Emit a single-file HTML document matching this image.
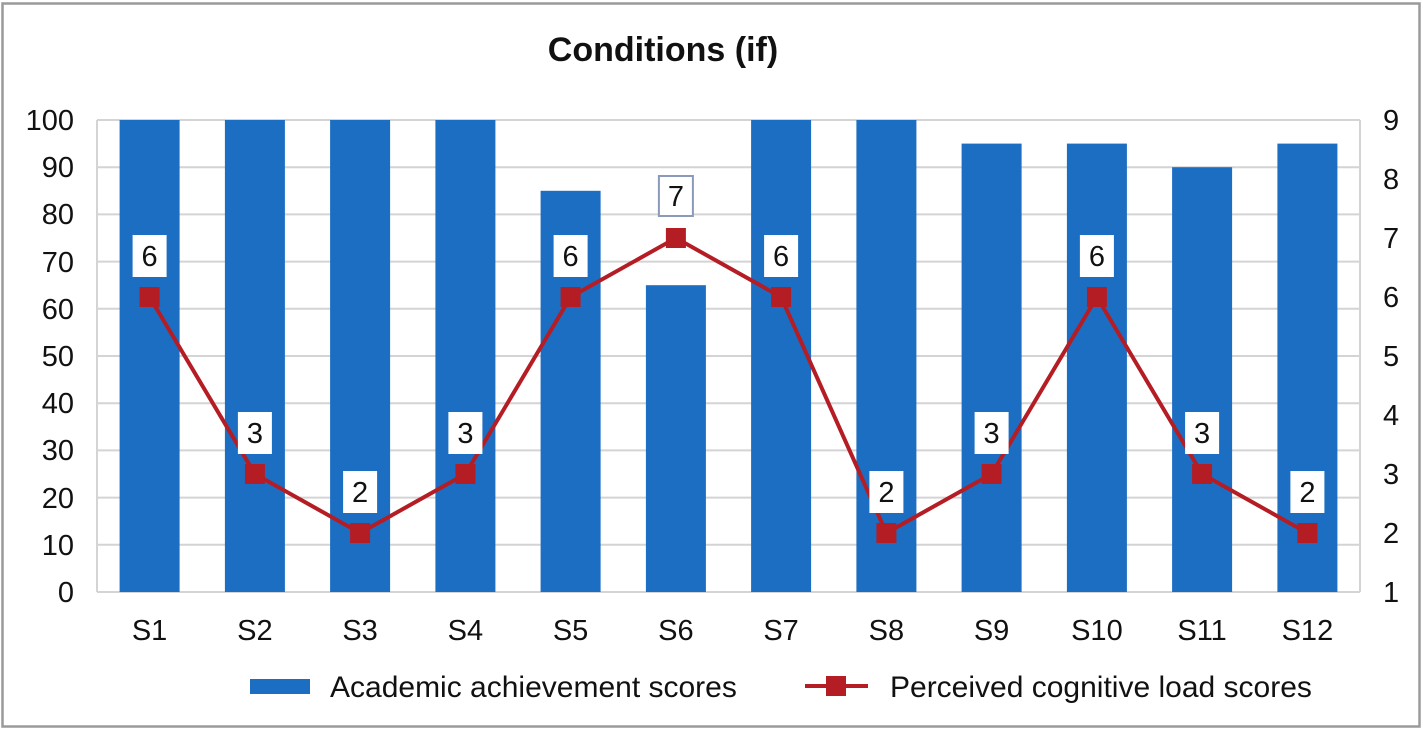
<!DOCTYPE html>
<html><head><meta charset="utf-8"><style>
html,body{margin:0;padding:0;background:#fff}
svg{display:block}
text{font-family:"Liberation Sans",sans-serif;fill:#111}
</style></head><body>
<svg width="1423" height="731" viewBox="0 0 1423 731" xmlns="http://www.w3.org/2000/svg">
<rect x="2.5" y="3.5" width="1417" height="723" fill="#fff" stroke="#9a9a9a" stroke-width="2.5"/>
<text x="663" y="61" font-size="34" font-weight="bold" text-anchor="middle">Conditions (if)</text>
<g stroke="#d4d4d4" stroke-width="2">
<line x1="97" y1="120" x2="1360" y2="120"/>
<line x1="97" y1="167.2" x2="1360" y2="167.2"/>
<line x1="97" y1="214.4" x2="1360" y2="214.4"/>
<line x1="97" y1="261.6" x2="1360" y2="261.6"/>
<line x1="97" y1="308.8" x2="1360" y2="308.8"/>
<line x1="97" y1="356" x2="1360" y2="356"/>
<line x1="97" y1="403.2" x2="1360" y2="403.2"/>
<line x1="97" y1="450.4" x2="1360" y2="450.4"/>
<line x1="97" y1="497.6" x2="1360" y2="497.6"/>
<line x1="97" y1="544.8" x2="1360" y2="544.8"/>
<line x1="97" y1="592" x2="1360" y2="592"/>
<line x1="97" y1="120" x2="97" y2="592"/>
<line x1="1360" y1="120" x2="1360" y2="592"/>
</g>
<g fill="#1b6ec2">
<rect x="119.6" y="120" width="60" height="472"/>
<rect x="224.9" y="120" width="60" height="472"/>
<rect x="330.1" y="120" width="60" height="472"/>
<rect x="435.4" y="120" width="60" height="472"/>
<rect x="540.6" y="190.8" width="60" height="401.2"/>
<rect x="645.9" y="285.2" width="60" height="306.8"/>
<rect x="751.1" y="120" width="60" height="472"/>
<rect x="856.4" y="120" width="60" height="472"/>
<rect x="961.6" y="143.6" width="60" height="448.4"/>
<rect x="1066.9" y="143.6" width="60" height="448.4"/>
<rect x="1172.1" y="167.2" width="60" height="424.8"/>
<rect x="1277.4" y="143.6" width="60" height="448.4"/>
</g>
<polyline fill="none" stroke="#b51d24" stroke-width="4" points="149.6,297 254.9,474 360.1,533 465.4,474 570.6,297 675.9,238 781.1,297 886.4,533 991.6,474 1096.9,297 1202.1,474 1307.4,533"/>
<g fill="#b51d24">
<rect x="139.6" y="287" width="20" height="20"/>
<rect x="244.9" y="464" width="20" height="20"/>
<rect x="350.1" y="523" width="20" height="20"/>
<rect x="455.4" y="464" width="20" height="20"/>
<rect x="560.6" y="287" width="20" height="20"/>
<rect x="665.9" y="228" width="20" height="20"/>
<rect x="771.1" y="287" width="20" height="20"/>
<rect x="876.4" y="523" width="20" height="20"/>
<rect x="981.6" y="464" width="20" height="20"/>
<rect x="1086.9" y="287" width="20" height="20"/>
<rect x="1192.1" y="464" width="20" height="20"/>
<rect x="1297.4" y="523" width="20" height="20"/>
</g>
<g fill="#fff">
<rect x="132.6" y="235" width="34" height="42"/>
<rect x="237.9" y="412" width="34" height="42"/>
<rect x="343.1" y="471" width="34" height="42"/>
<rect x="448.4" y="412" width="34" height="42"/>
<rect x="553.6" y="235" width="34" height="42"/>
<rect x="658.9" y="176" width="34" height="40" stroke="#8a9ab8" stroke-width="2"/>
<rect x="764.1" y="235" width="34" height="42"/>
<rect x="869.4" y="471" width="34" height="42"/>
<rect x="974.6" y="412" width="34" height="42"/>
<rect x="1079.9" y="235" width="34" height="42"/>
<rect x="1185.1" y="412" width="34" height="42"/>
<rect x="1290.4" y="471" width="34" height="42"/>
</g>
<g font-size="29" text-anchor="middle">
<text x="149.6" y="266">6</text>
<text x="254.9" y="443">3</text>
<text x="360.1" y="502">2</text>
<text x="465.4" y="443">3</text>
<text x="570.6" y="266">6</text>
<text x="675.9" y="206">7</text>
<text x="781.1" y="266">6</text>
<text x="886.4" y="502">2</text>
<text x="991.6" y="443">3</text>
<text x="1096.9" y="266">6</text>
<text x="1202.1" y="443">3</text>
<text x="1307.4" y="502">2</text>
</g>
<g font-size="29" text-anchor="end">
<text x="74" y="130">100</text>
<text x="74" y="177">90</text>
<text x="74" y="224">80</text>
<text x="74" y="272">70</text>
<text x="74" y="319">60</text>
<text x="74" y="366">50</text>
<text x="74" y="413">40</text>
<text x="74" y="460">30</text>
<text x="74" y="508">20</text>
<text x="74" y="555">10</text>
<text x="74" y="602">0</text>
</g>
<g font-size="29">
<text x="1383" y="130">9</text>
<text x="1383" y="189">8</text>
<text x="1383" y="248">7</text>
<text x="1383" y="307">6</text>
<text x="1383" y="366">5</text>
<text x="1383" y="425">4</text>
<text x="1383" y="484">3</text>
<text x="1383" y="543">2</text>
<text x="1383" y="602">1</text>
</g>
<g font-size="29" text-anchor="middle">
<text x="149.6" y="640">S1</text>
<text x="254.9" y="640">S2</text>
<text x="360.1" y="640">S3</text>
<text x="465.4" y="640">S4</text>
<text x="570.6" y="640">S5</text>
<text x="675.9" y="640">S6</text>
<text x="781.1" y="640">S7</text>
<text x="886.4" y="640">S8</text>
<text x="991.6" y="640">S9</text>
<text x="1096.9" y="640">S10</text>
<text x="1202.1" y="640">S11</text>
<text x="1307.4" y="640">S12</text>
</g>
<rect x="250" y="679" width="60" height="15" fill="#1b6ec2"/>
<text x="330" y="697" font-size="30">Academic achievement scores</text>
<line x1="805" y1="686" x2="868" y2="686" stroke="#b51d24" stroke-width="4"/>
<rect x="826" y="676" width="20" height="20" fill="#b51d24"/>
<text x="890" y="697" font-size="30">Perceived cognitive load scores</text>
</svg>
</body></html>
